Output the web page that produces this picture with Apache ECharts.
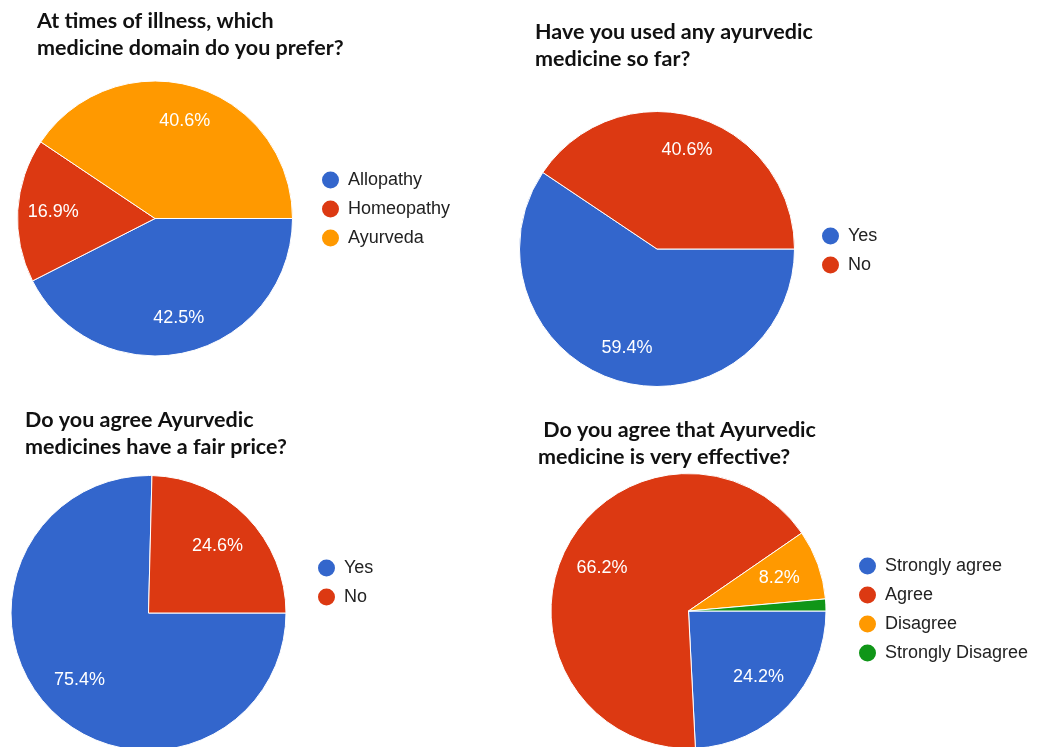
<!DOCTYPE html>
<html>
<head>
<meta charset="utf-8">
<script src="https://cdn.jsdelivr.net/npm/echarts@6/dist/echarts.min.js"></script>
<style>
  html, body { margin: 0; padding: 0; background: #fff; }
  #chart { width: 1038px; height: 747px; }
</style>
</head>
<body>
<div id="chart"></div>
<script>
// Survey answers, in percent of respondents
const domainNames = ['Allopathy', 'Homeopathy', 'Ayurveda'];
const domainShares = [42.5, 16.9, 40.6];

const usedNames = ['Yes', 'No'];
const usedShares = [59.4, 40.6];

const priceNames = ['Yes', 'No'];
const priceShares = [75.4, 24.6];

const effectNames = ['Strongly agree', 'Agree', 'Disagree', 'Strongly Disagree'];
const effectShares = [24.2, 66.2, 8.2, 1.4];

const questions = [
  'At times of illness, which\nmedicine domain do you prefer?',
  'Have you used any ayurvedic\nmedicine so far?',
  'Do you agree Ayurvedic\nmedicines have a fair price?',
  ' Do you agree that Ayurvedic\nmedicine is very effective?'
];

const palette = ['#3366cc', '#dc3912', '#ff9900', '#109618'];

// Layout of the four panels
const panels = [
  { names: domainNames, values: domainShares, center: [155, 218.5], labelAt: 0.72,
    title: [37, 8], legend: [320, 169.5] },
  { names: usedNames, values: usedShares, center: [657, 249], labelAt: 0.73,
    title: [535, 19], legend: [820, 225.5] },
  { names: priceNames, values: priceShares, center: [148.5, 613], labelAt: 0.68,
    title: [25, 406.5], legend: [316, 557.5] },
  { names: effectNames, values: effectShares, center: [688.5, 611], labelAt: 0.68,
    title: [538, 416.5], legend: [857, 555.5] }
];

const R = 137.5;
const labelFont = 'Liberation Sans, Arial, sans-serif';

const toData = (names, values) => names.map((n, i) => ({
  name: n,
  value: values[i],
  itemStyle: { color: palette[i] }
}));

const sliceSeries = panels.map(p => ({
  type: 'pie',
  center: p.center,
  radius: [0, R],
  startAngle: 0,
  clockwise: true,
  silent: true,
  animation: false,
  label: { show: false },
  labelLine: { show: false },
  itemStyle: { borderColor: '#ffffff', borderWidth: 1 },
  emphasis: { disabled: true },
  data: toData(p.names, p.values)
}));

// Transparent rings carrying the percentage labels at the right distance from the centre
const labelSeries = panels.map(p => ({
  type: 'pie',
  center: p.center,
  radius: [(2 * p.labelAt - 1) * R, R],
  startAngle: 0,
  clockwise: true,
  silent: true,
  animation: false,
  itemStyle: { color: 'rgba(0,0,0,0)', borderWidth: 0 },
  labelLine: { show: false },
  emphasis: { disabled: true },
  label: {
    show: true,
    position: 'inside',
    color: '#ffffff',
    fontSize: 18,
    fontFamily: labelFont,
    formatter: params => params.value < 5 ? '' : params.value.toFixed(1) + '%'
  },
  data: p.names.map((n, i) => ({ name: n, value: p.values[i] }))
}));

const option = {
  backgroundColor: '#ffffff',
  animation: false,
  title: panels.map((p, i) => ({
    text: questions[i],
    left: p.title[0],
    top: p.title[1],
    padding: 0,
    textStyle: {
      fontFamily: 'Lato, "Open Sans", sans-serif',
      fontWeight: 'bold',
      fontSize: 21.5,
      lineHeight: 27,
      color: '#111111'
    }
  })),
  legend: panels.map(p => ({
    orient: 'vertical',
    left: p.legend[0],
    top: p.legend[1],
    padding: 0,
    icon: 'circle',
    itemWidth: 25,
    itemHeight: 19,
    itemGap: 8,
    selectedMode: false,
    data: p.names,
    textStyle: {
      fontFamily: labelFont,
      fontSize: 18,
      lineHeight: 18,
      color: '#222222'
    }
  })),
  series: sliceSeries.concat(labelSeries)
};

const chart = echarts.init(document.getElementById('chart'), null, { renderer: 'canvas' });
chart.setOption(option);
</script>
</body>
</html>
